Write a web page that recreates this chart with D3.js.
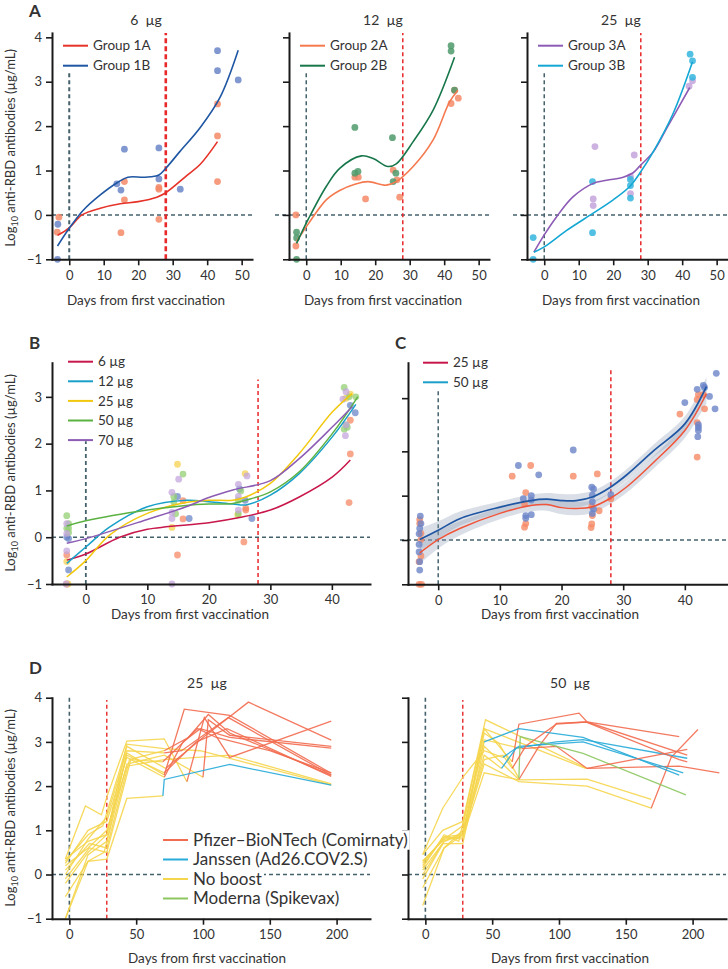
<!DOCTYPE html>
<html>
<head>
<meta charset="utf-8">
<script src="https://cdn.jsdelivr.net/npm/d3@7"></script>
<style>
  body { margin: 0; background: #fff; }
  svg text { font-family: Lato, "Open Sans", sans-serif; fill: #333; }
</style>
</head>
<body>
<svg id="chart" width="728" height="969"></svg>
<script>
// ---------- data: panel A (individual dose groups, [day, log10 value]) ----------
const a1FitA = [[-3.4,-0.46],[0,-0.29],[3.7,0],[9,0.15],[14.8,0.25],[20,0.3],[25.4,0.4],[28,0.5],[34,0.88],[38,1.14],[43,1.65]];
const a1FitB = [[-3.4,-0.7],[0,-0.3],[4,0.1],[9,0.45],[14,0.73],[17,0.85],[22,0.85],[26,0.9],[28,1.05],[32,1.42],[38,1.97],[43.8,2.66],[49,3.71]];
const a1DotsA = [[-3,-0.05],[-3.5,-0.39],[15,-0.4],[16,0.34],[16,0.75],[26,0.62],[26,0.58],[26,-0.1],[43,2.5],[43,1.78],[43,0.75]];
const a1DotsB = [[-3.3,-0.21],[-3.4,-1.0],[13.8,0.7],[15,0.56],[16,1.48],[26,1.51],[26,0.81],[32.2,0.58],[43,3.7],[43,3.25],[49,3.04]];

const a2FitA = [[-2.8,-0.6],[0.7,-0.19],[5.8,0.34],[9.7,0.55],[14.1,0.69],[17.9,0.75],[23.2,0.67],[26.1,0.75],[31,1.09],[36.8,1.69],[41.6,2.55],[44,2.81]];
const a2FitB = [[-2.8,-0.64],[0.7,-0.08],[5.8,0.64],[9.7,1.05],[16,1.33],[19.4,1.27],[23.7,1.09],[26.1,1.15],[31,1.65],[36.8,2.36],[43,3.55]];
const a2DotsA = [[-3,0.0],[-3,-0.7],[14.1,0.85],[15.1,0.85],[17.2,0.36],[25.2,1.01],[26.3,0.79],[27.1,0.4],[42,2.51],[44.1,2.63],[43,2.81]];
const a2DotsB = [[-2.8,-0.39],[-2.8,-0.52],[-2.8,-1.0],[14.1,1.97],[14.1,0.94],[15,0.98],[25,1.74],[26,0.94],[25.2,0.75],[42,3.81],[42,3.69],[43,2.81]];

const a3FitA = [[-3,-0.84],[0,-0.45],[3.6,-0.04],[8.4,0.41],[14.2,0.71],[18.1,0.78],[22.9,0.85],[25.8,0.95],[27.7,1.1],[31.6,1.42],[35.5,1.95],[42.2,2.87]];
const a3FitB = [[-3,-0.84],[0,-0.72],[6.5,-0.35],[14.2,0.04],[20,0.34],[24.8,0.64],[27.7,0.94],[31.6,1.42],[37.4,2.29],[43,3.45]];
const a3DotsA = [[14.7,1.54],[14.2,0.36],[14.2,0.21],[26.1,1.35],[25,0.86],[25,0.48],[42,2.9],[43,3.02]];
const a3DotsB = [[-3.2,-0.51],[-3.2,-1.0],[14,0.75],[14,-0.4],[25,0.8],[25,0.66],[25,0.38],[42.3,3.62],[43,3.47],[43,3.1]];

// ---------- panel B (all doses) ----------
const bDoses = ["6 µg", "12 µg", "25 µg", "50 µg", "70 µg"];
const bFit6 = [[-3.1,-0.49],[0,-0.36],[5.5,0.0],[10,0.17],[20,0.31],[25,0.42],[30,0.58],[34.7,0.86],[40.1,1.29],[43,1.65]];
const bFit12 = [[-3.1,-0.56],[0,-0.21],[3.9,0.22],[10,0.65],[16.3,0.79],[20,0.76],[23.9,0.71],[26,0.69],[30,0.9],[34.7,1.36],[40.1,2.15],[43.9,2.84]];
const bFit25 = [[-3.1,-0.85],[0,-0.5],[3.9,0.05],[10,0.51],[16.3,0.74],[20,0.79],[23.9,0.79],[26,0.86],[30,1.15],[34.7,1.79],[40.1,2.68],[43.3,3.07]];
const bFit50 = [[-3.1,0.24],[0,0.35],[10,0.58],[16.3,0.68],[20,0.71],[23.9,0.72],[26,0.79],[30,0.97],[34.7,1.4],[40.1,2.22],[44.2,3.0]];
const bFit70 = [[-3.1,-0.13],[0,-0.03],[10,0.38],[16.3,0.65],[20,0.85],[23.9,1.01],[30,1.21],[34.7,1.68],[40.1,2.36],[43.3,2.79]];
const bDots6 = [[-3.1,-0.38],[-3.1,-1.0],[14.9,-0.38],[15.8,0.78],[15.8,0.39],[26,0.62],[26,0.58],[25.7,-0.1],[43,2.5],[43,1.78],[42.8,0.74]];
const bDots12 = [[-2.8,-0.03],[-3.1,0.0],[-2.8,-0.7],[14.9,0.87],[16.8,0.4],[25,1.03],[25.9,0.79],[27,0.4],[43,2.82],[43.8,2.66]];
const bDots25 = [[-3.1,-0.52],[-2.9,-1.0],[14,0.21],[14.9,1.56],[25.9,1.36],[24.7,0.48],[42.3,2.97],[43,3.06]];
const bDots50 = [[-3.1,0.46],[-2.8,0.29],[-2.8,0.19],[-3.1,0.19],[-2.8,0.1],[14.3,0.87],[14.3,0.75],[14.6,0.5],[15.8,1.35],[25.2,0.99],[24.8,0.5],[24.8,0.79],[42,3.2],[42.8,3.0],[43.9,3.0],[42.3,2.4],[42,2.31],[42.5,2.35]];
const bDots70 = [[-3.1,0.29],[-3.1,0.08],[-3.1,-0.29],[-3.2,-1.0],[14,0.96],[14,0.53],[14,0.4],[14,-1.0],[15.1,1.24],[24.8,1.13],[26.2,1.31],[24.8,0.87],[24.8,0.58],[42.3,3.11],[41.8,2.95],[42.3,2.4],[42.2,2.17]];

// ---------- panel C (25 vs 50 µg, fitted with band) ----------
const cDays = [-3, 0, 3.5, 10, 15, 17.6, 20, 22.4, 25, 27.8, 30.5, 35, 40, 43.5];
const cFit25 = [-0.29, 0.01, 0.26, 0.6, 0.78, 0.8, 0.73, 0.71, 0.75, 0.93, 1.19, 1.76, 2.47, 3.3];
const cFit50 = [0.01, 0.22, 0.48, 0.74, 0.89, 0.92, 0.89, 0.89, 0.97, 1.18, 1.46, 2.02, 2.62, 3.46];
const cBand = [0.25, 0.2, 0.16, 0.13, 0.13, 0.14, 0.15, 0.15, 0.14, 0.13, 0.13, 0.14, 0.17, 0.22];
const cDots25 = [[-3,0.46],[-3,0.37],[-2.8,0.15],[-2.8,0.01],[-2.8,-0.36],[-3.1,-0.49],[-3.1,-1.0],[-2.7,-1.0],[12,1.44],[15,1.68],[14.2,1.07],[14,0.82],[14.2,0.37],[14,0.29],[21.9,1.44],[25.8,1.49],[24.9,0.76],[26.1,0.66],[25,0.55],[24.9,0.36],[24.8,0.28],[28,0.93],[39.2,2.84],[42,3.17],[42.2,3.28],[43,3.28],[43.2,2.96],[42,2.65],[42,1.87]];
const cDots50 = [[-2.9,0.54],[-2.8,0.37],[-3,0.26],[-3.1,0.14],[-3.1,-0.1],[-3.1,-0.27],[-3,-0.49],[-3,-0.68],[13,1.68],[16.3,1.47],[15.1,1.0],[13.8,0.93],[15.1,0.9],[15.1,0.57],[14.2,0.55],[14.2,0.49],[21.9,2.03],[24.9,1.19],[25.2,1.15],[25,1.01],[25,0.86],[25.2,0.7],[25,0.6],[28,1.02],[40,3.1],[42,3.4],[43,3.49],[43.2,3.44],[44,3.24],[45.1,3.76],[44.9,2.96],[42.2,2.54],[42.2,2.47],[42.1,2.33],[42.2,2.6]];

// ---------- panel D (individual trajectories: booster, index of boost visit, points) ----------
const dBoosters = ["pfizer", "janssen", "none", "moderna"];
const dBoosterNames = ["Pfizer–BioNTech (Comirnaty)", "Janssen (Ad26.COV2.S)", "No boost", "Moderna (Spikevax)"];
const d25Lines = [
  ["pfizer", 4, [[-3,-1.0],[14,0.45],[28,0.75],[43,2.75],[71,2.25],[86,3.74],[120,3.6],[196,2.29]]],
  ["pfizer", 4, [[-3,0.3],[14,0.9],[25,1.1],[43,2.9],[72,2.4],[100,3.1],[134,3.9],[196,3.04]]],
  ["pfizer", 4, [[-3,0.1],[15,0.7],[28,0.6],[45,2.6],[71,2.8],[89,3.1],[104,3.62],[120,3.2],[196,2.25]]],
  ["pfizer", 5, [[-3,-0.5],[14,0.3],[26,0.5],[43,2.5],[71,2.7],[100,2.2],[104,3.5],[120,3.15],[196,2.9]]],
  ["pfizer", 6, [[-3,0.35],[12,1.55],[24,1.35],[28,1.75],[43,3.02],[71,3.07],[88,2.1],[101,3.55],[120,2.65],[196,3.47]]],
  ["pfizer", 4, [[-3,0.0],[14,0.8],[28,1.3],[43,2.8],[71,2.75],[84,2.8],[119,3.55],[196,2.25]]],
  ["pfizer", 4, [[-3,-0.1],[15,0.6],[28,0.5],[46,2.6],[70,2.55],[96,3.3],[110,3.1],[150,2.8],[196,2.3]]],
  ["pfizer", 4, [[-3,0.25],[14,1.0],[28,1.2],[43,2.65],[71,2.2],[85,3.0],[98,3.3],[120,3.1],[196,2.86]]],
  ["janssen", 4, [[-3,-1.0],[14,0.3],[28,0.35],[43,1.72],[70,1.78],[71,2.15],[120,2.49],[196,2.02]]],
  ["none", 6, [[-3,0.35],[14,0.75],[28,0.9],[43,2.95],[71,2.85],[98,2.8],[196,2.03]]],
  ["none", 6, [[-3,0.2],[14,0.6],[28,1.0],[43,2.45],[71,2.6],[120,2.7],[196,2.05]]],
  ["pfizer", 4, [[-3,-0.2],[14,0.5],[28,0.9],[43,2.7],[71,2.3],[95,3.0],[118,3.3],[196,2.22]]]
];
const d50Lines = [
  ["pfizer", 6, [[-2,-0.7],[14,0.6],[28,0.9],[44,2.5],[70,2.1],[121,2.0],[169,1.5],[184,2.65],[204,3.28]]],
  ["pfizer", 4, [[-2,0.2],[14,0.85],[28,0.8],[44,3.3],[65,2.55],[70,3.4],[115,3.65],[121,3.45],[190,3.12]]],
  ["pfizer", 4, [[-2,0.0],[13,0.7],[28,0.7],[44,2.9],[70,2.15],[85,2.9],[98,3.42],[121,3.45],[196,2.7]]],
  ["pfizer", 4, [[-2,0.3],[14,0.8],[28,1.1],[44,3.05],[72,2.85],[98,2.9],[121,2.4],[190,2.45],[220,2.3]]],
  ["janssen", 3, [[-2,0.1],[14,0.75],[28,0.95],[44,3.0],[70,3.3],[118,3.1],[190,2.25]]],
  ["janssen", 4, [[-2,-0.3],[14,0.6],[28,1.0],[44,2.7],[57,2.4],[68,2.86],[98,3.0],[118,3.05],[196,2.63]]],
  ["janssen", 4, [[-2,0.45],[13,1.5],[28,2.2],[44,2.8],[58,2.65],[70,2.9],[118,3.0],[193,2.3]]],
  ["moderna", 5, [[-2,0.25],[14,0.85],[28,0.9],[44,3.2],[55,2.97],[70,2.18],[71,3.12],[118,2.74],[195,1.8]]],
  ["none", 6, [[-2,0.3],[14,0.8],[28,0.85],[44,2.3],[70,2.14],[121,2.16],[169,1.7]]],
  ["pfizer", 4, [[-2,0.45],[13,1.0],[28,1.2],[45,3.5],[121,2.4],[196,2.83]]],
  ["pfizer", 5, [[-2,-0.1],[14,0.75],[28,0.9],[44,2.6],[58,2.7],[65,2.4],[75,2.9],[98,3.4],[120,3.45],[190,2.6],[196,2.55]]],
  ["none", 4, [[-2,0.15],[14,0.9],[25,0.75],[44,3.3],[120,2.4]]]
];

// ---------- styling ----------
const GREY = "#45626c", RED = "#e8282a", AXIS = "#1a1a1a";
const FONT = "Lato, 'Open Sans', sans-serif";
const dColor = { pfizer: "#f26c4f", janssen: "#27abd8", none: "#f5d54c", moderna: "#8cc660" };

const svg = d3.select("#chart");

function panel(xd, xr, yd, yr) {
  const x = d3.scaleLinear().domain(xd).range(xr);
  const y = d3.scaleLinear().domain(yd).range(yr);
  const g = svg.append("g");
  return { x, y, under: g.append("g"), marks: g.append("g"), axes: g.append("g"), top: g.append("g") };
}

function axes(p, xt, yt, yLabels) {
  const xa = p.axes.append("g").attr("transform", `translate(0,${p.y.range()[0]})`)
    .call(d3.axisBottom(p.x).tickValues(xt).tickSize(6).tickSizeOuter(0).tickPadding(5));
  const ya = p.axes.append("g").attr("transform", `translate(${p.x.range()[0]},0)`)
    .call(d3.axisLeft(p.y).tickValues(yt).tickSize(6).tickSizeOuter(0).tickPadding(4)
      .tickFormat(yLabels ? d3.format("d") : () => ""));
  [xa, ya].forEach(a => {
    a.attr("font-family", FONT).attr("font-size", 13);
    a.select(".domain").attr("stroke", AXIS).attr("stroke-width", 2).attr("stroke-linecap", "square");
    a.selectAll(".tick line").attr("stroke", AXIS).attr("stroke-width", 1.6);
    a.selectAll(".tick text").attr("fill", "#444");
  });
}

function vline(p, day, v0, v1, color, w, dash) {
  p.under.append("line")
    .attr("x1", p.x(day)).attr("x2", p.x(day))
    .attr("y1", p.y(v0)).attr("y2", p.y(v1))
    .attr("stroke", color).attr("stroke-width", w).attr("stroke-dasharray", dash);
}

function hzero(p, x0) {
  p.under.append("line")
    .attr("x1", x0 !== undefined ? x0 : p.x.range()[0]).attr("x2", p.x.range()[1])
    .attr("y1", p.y(0)).attr("y2", p.y(0))
    .attr("stroke", GREY).attr("stroke-width", 1.5).attr("stroke-dasharray", "4,3");
}

function dots(p, data, color, op) {
  p.marks.append("g").selectAll("circle").data(data).enter().append("circle")
    .attr("cx", d => p.x(d[0])).attr("cy", d => p.y(d[1])).attr("r", 3.4)
    .attr("fill", color).attr("fill-opacity", op);
}

function curve(p, data, color, w, layer) {
  const line = d3.line().x(d => p.x(d[0])).y(d => p.y(d[1])).curve(d3.curveCatmullRom.alpha(0.5));
  (layer || p.top).append("path").datum(data).attr("d", line)
    .attr("fill", "none").attr("stroke", color).attr("stroke-width", w);
}

function legend(x, y, dy, items, size, bg) {
  const g = svg.append("g");
  items.forEach((it, i) => {
    const row = g.append("g").attr("transform", `translate(${x},${y + i * dy})`);
    const bgr = bg ? row.append("rect").attr("fill", "#fff") : null;
    row.append("line").attr("x1", 0).attr("x2", 25).attr("stroke", it[1]).attr("stroke-width", 2);
    const t = row.append("text").attr("x", 30).attr("dy", "0.35em").attr("font-size", size).text(it[0]);
    if (bg) {
      const w = t.node().getComputedTextLength();
      bgr.attr("x", -2).attr("y", -dy / 2).attr("width", w + 34).attr("height", dy);
    }
  });
}

function label(x, y, txt, size, opts) {
  const t = svg.append("text").attr("x", x).attr("y", y).attr("font-size", size).text(txt);
  if (opts && opts.anchor) t.attr("text-anchor", opts.anchor);
  if (opts && opts.bold) t.attr("font-weight", "bold").attr("fill", "#111");
  return t;
}

function yTitle(cx, cy) {
  const t = svg.append("text").attr("transform", `translate(${cx},${cy}) rotate(-90)`)
    .attr("text-anchor", "middle").attr("font-size", 13);
  t.append("tspan").text("Log");
  t.append("tspan").attr("font-size", 9).attr("dy", 3).text("10");
  t.append("tspan").attr("dy", -3).text(" anti-RBD antibodies (µg/mL)");
}

// ---------- panel A ----------
const aX = [[52, 252], [289, 489], [527, 727]];
const aSets = [
  ["6\u00a0 µg", a1FitA, a1FitB, a1DotsA, a1DotsB, ["#e63228", "#1f56a3"], ["#f58a67", "#6b85c8"], ["Group 1A", "Group 1B"], 2.6],
  ["12\u00a0 µg", a2FitA, a2FitB, a2DotsA, a2DotsB, ["#f5794f", "#17774a"], ["#f58a67", "#4f9a6b"], ["Group 2A", "Group 2B"], 1.5],
  ["25\u00a0 µg", a3FitA, a3FitB, a3DotsA, a3DotsB, ["#8d5bb6", "#14a7d4"], ["#c4a5dc", "#33b5de"], ["Group 3A", "Group 3B"], 1.5]
];
aSets.forEach((s, i) => {
  const p = panel([-5, 53], aX[i], [-1, 4.1], [259.3, 32.9]);
  hzero(p, i === 0 ? undefined : aX[i][0] - 14);
  vline(p, 0, -1, 3.23, GREY, i === 0 ? 2 : 1.5, "4,3");
  vline(p, 28, -1, 4.1, RED, s[8], i === 0 ? "5,3" : "4,3");
  dots(p, s[3], s[6][0], 0.85);
  dots(p, s[4], s[6][1], 0.85);
  curve(p, s[1], s[5][0], 1.6);
  curve(p, s[2], s[5][1], 1.6);
  axes(p, [0, 10, 20, 30, 40, 50], [-1, 0, 1, 2, 3, 4], i === 0);
  const cx = (aX[i][0] + aX[i][1]) / 2 - 6;
  label(cx, 25, s[0], 14, { anchor: "middle" });
  label(cx, 305, "Days from first vaccination", 13.5, { anchor: "middle" });
  legend(aX[i][0] + 11, 45.7, 20, [[s[7][0], s[5][0]], [s[7][1], s[5][1]]], 13.5);
});
yTitle(15, 148);
label(29, 17, "A", 17, { bold: true });

// ---------- panel B ----------
const bCol = ["#c8174b", "#19a0c9", "#f2c80f", "#5bb243", "#8c5cb4"];
const bDotCol = ["#f58a67", "#6b85c8", "#f5d250", "#93cf73", "#c4a5dc"];
const pB = panel([-5.5, 46.2], [52, 370], [-1, 3.73], [584, 362.7]);
hzero(pB);
vline(pB, 0, -1, 2.05, GREY, 1.8, "4,3");
vline(pB, 28, -1, 3.37, RED, 1.5, "4,3");
[bDots6, bDots12, bDots25, bDots50, bDots70].forEach((d, i) => dots(pB, d, bDotCol[i], 0.75));
[bFit6, bFit12, bFit25, bFit50, bFit70].forEach((d, i) => curve(pB, d, bCol[i], 1.5));
axes(pB, [0, 10, 20, 30, 40], [-1, 0, 1, 2, 3], true);
legend(68, 361.7, 19.6, bDoses.map((d, i) => [d, bCol[i]]), 13.5);
label(190, 619, "Days from first vaccination", 13.5, { anchor: "middle" });
yTitle(15, 473);
label(29, 349, "B", 17, { bold: true });

// ---------- panel C ----------
const pC = panel([-4.9, 47], [408, 728], [-1, 4], [584.3, 362.7]);
hzero(pC, 400);
vline(pC, 0, -1, 3.4, GREY, 1.5, "4,3");
vline(pC, 28, -1, 3.9, RED, 1.5, "4,3");
const band = d3.area().x((d, i) => pC.x(cDays[i]))
  .y0(d => pC.y(d[0] - d[1])).y1(d => pC.y(d[0] + d[1])).curve(d3.curveCatmullRom.alpha(0.5));
[cFit25, cFit50].forEach(f => {
  pC.under.append("path").datum(f.map((v, i) => [v, cBand[i]])).attr("d", band)
    .attr("fill", "#8d9db3").attr("fill-opacity", 0.32);
});
dots(pC, cDots25, "#f58a67", 0.8);
dots(pC, cDots50, "#6b85c8", 0.8);
curve(pC, cDays.map((d, i) => [d, cFit25[i]]), "#f0543a", 1.5);
curve(pC, cDays.map((d, i) => [d, cFit50[i]]), "#1f56a3", 1.7);
axes(pC, [0, 10, 20, 30, 40], [-1, 0, 1, 2, 3.2], false);
legend(423, 362.7, 19.6, [["25 µg", "#c8174b"], ["50 µg", "#19a0c9"]], 13.5);
label(560, 619, "Days from first vaccination", 13.5, { anchor: "middle" });
label(395, 349, "C", 17, { bold: true });

// ---------- panel D ----------
function spaghetti(p, lines) {
  const line = d3.line().x(d => p.x(d[0])).y(d => p.y(d[1]));
  const pre = p.marks.append("g"), post = p.marks.append("g");
  lines.forEach(([b, k, pts]) => {
    pre.append("path").attr("d", line(pts.slice(0, k + 1)))
      .attr("fill", "none").attr("stroke", dColor.none).attr("stroke-width", 1.3).attr("stroke-opacity", 0.9);
    if (b !== "none") {
      post.append("path").attr("d", line(pts.slice(k)))
        .attr("fill", "none").attr("stroke", dColor[b]).attr("stroke-width", 1.3).attr("stroke-opacity", 0.9);
    }
  });
}
[[d25Lines, [52, 370], "25\u00a0 µg", true], [d50Lines, [408, 726], "50\u00a0 µg", false]].forEach(([lines, xr, title, first]) => {
  const p = panel([-13, 225], xr, [-1, 4], [918.7, 697.7]);
  hzero(p);
  vline(p, 0, -1, 4, GREY, 1.6, "4,3");
  vline(p, 28, -1, 3.95, RED, 1.4, "4,3");
  spaghetti(p, lines);
  axes(p, [0, 50, 100, 150, 200], [-1, 0, 1, 2, 3, 4], first);
  const cx = first ? 207 : 570;
  label(cx, 688, title, 14, { anchor: "middle" });
  label(cx, 963, "Days from first vaccination", 13.5, { anchor: "middle" });
});
legend(163, 840, 19.5, dBoosters.map((b, i) => [dBoosterNames[i], dColor[b]]), 17, true);
yTitle(15, 808);
label(29, 674, "D", 17, { bold: true });
</script>
</body>
</html>
